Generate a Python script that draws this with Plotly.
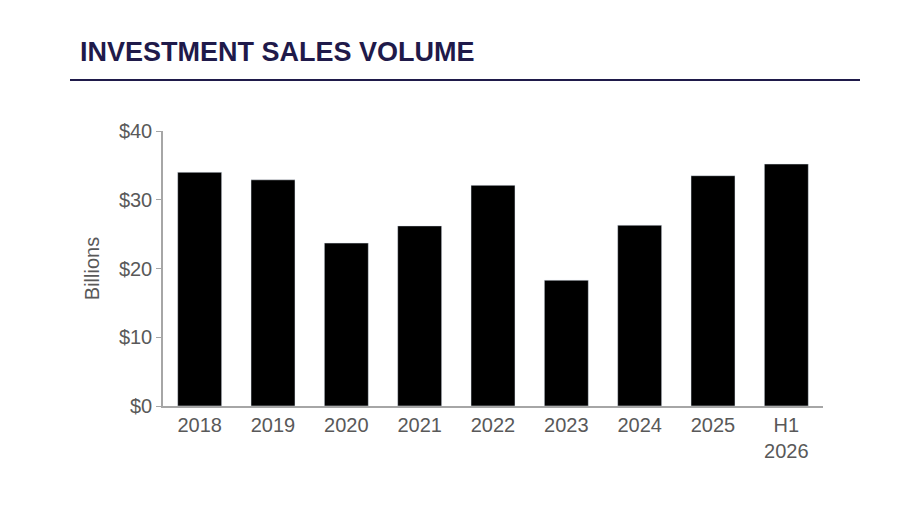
import plotly.graph_objects as go

years = ["2018", "2019", "2020", "2021", "2022", "2023", "2024", "2025", "H1<br>2026"]
volume = [34.0, 32.9, 23.7, 26.2, 32.1, 18.3, 26.3, 33.5, 35.2]
tick_vals = [0, 10, 20, 30, 40]
tick_text = ["$0", "$10", "$20", "$30", "$40"]

fig = go.Figure(go.Bar(x=years, y=volume, marker_color="black", width=0.6))

# page renders with ~8px body offset, so everything is placed 8px up/left
fig.update_layout(
    width=900, height=506,
    paper_bgcolor="white", plot_bgcolor="white",
    font=dict(family="Liberation Sans, Arial", size=20, color="#595959"),
    margin=dict(l=155, r=85, t=123, b=108),
    showlegend=False,
    title=dict(text="<b>INVESTMENT SALES VOLUME</b>", x=72 / 900, xanchor="left",
               y=1 - 44 / 506, yanchor="middle",
               font=dict(size=27, color="#1f1a4a")),
    shapes=[dict(type="line", xref="paper", yref="paper",
                 x0=(70 - 163) / 660, x1=(860 - 163) / 660,
                 y0=1 + (131 - 80) / 275, y1=1 + (131 - 80) / 275,
                 line=dict(color="#1f1a4a", width=2))],
)
fig.update_xaxes(showline=True, linecolor="#a6a6a6", linewidth=1.5, ticks="",
                 tickfont=dict(size=20))
fig.update_yaxes(range=[0, 40], tickvals=tick_vals, ticktext=tick_text,
                 showgrid=False, showline=True, linecolor="#a6a6a6", linewidth=1.5,
                 ticks="outside", ticklen=5, tickcolor="#a6a6a6",
                 title=dict(text="Billions", standoff=14, font=dict(size=20)),
                 zeroline=False)

fig.write_html("out.html")
